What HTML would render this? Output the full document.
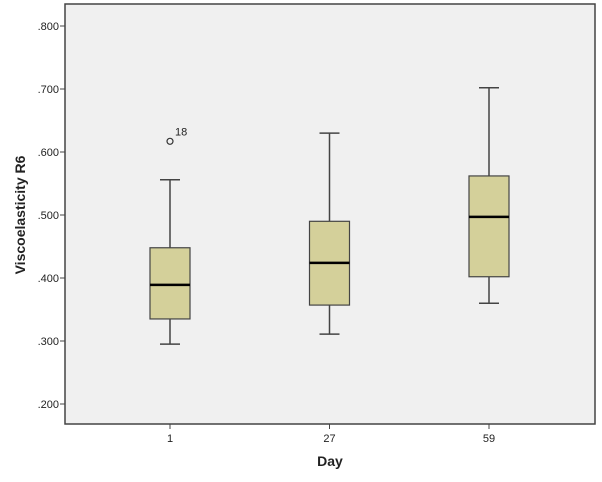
<!DOCTYPE html>
<html><head><meta charset="utf-8"><style>body{margin:0;background:#fff}svg{display:block;font-family:"Liberation Sans",Arial,sans-serif}</style></head>
<body>
<svg id="chart" width="602" height="482"></svg>
<script>
const categories=["1","27","59"];
const mins=[0.295,0.311,0.360];
const q1s=[0.335,0.357,0.402];
const medians=[0.389,0.424,0.497];
const q3s=[0.448,0.490,0.562];
const maxs=[0.556,0.630,0.702];
const outlierValues=[[0.617],[],[]];
const outlierLabels=[["18"],[],[]];
const yTicks=[0.2,0.3,0.4,0.5,0.6,0.7,0.8];
const yTickLabels=[".200",".300",".400",".500",".600",".700",".800"];

const NS="http://www.w3.org/2000/svg";
const svg=document.getElementById('chart');
const L=65,R=595,T=4,B=424;
const y=v=>26+(0.8-v)*630;
const x=i=>170+i*159.5;
function mk(tag,attrs,parent){const e=document.createElementNS(NS,tag);for(const k in attrs)e.setAttribute(k,attrs[k]);(parent||svg).appendChild(e);return e;}
const bg=mk('rect',{x:L,y:T,width:R-L,height:B-T,fill:'#f0f0f0',stroke:'#444','stroke-width':1.5});


yTicks.forEach((v,i)=>{
  const t=mk('line',{x1:L-5,x2:L,y1:y(v),y2:y(v),stroke:'#444'});
  
  
  const tx=mk('text',{x:L-6,y:y(v)+4,'text-anchor':'end','font-size':11,fill:'#222'});
  tx.textContent=yTickLabels[i];
  
  
});
categories.forEach((c,i)=>{
  const cx=x(i),g=mk('g',{});
  
  
  mk('line',{x1:cx,x2:cx,y1:y(maxs[i]),y2:y(q3s[i]),stroke:'#444','stroke-width':1.5},g);
  mk('line',{x1:cx,x2:cx,y1:y(q1s[i]),y2:y(mins[i]),stroke:'#444','stroke-width':1.5},g);
  mk('line',{x1:cx-10,x2:cx+10,y1:y(maxs[i]),y2:y(maxs[i]),stroke:'#444','stroke-width':1.5},g);
  mk('line',{x1:cx-10,x2:cx+10,y1:y(mins[i]),y2:y(mins[i]),stroke:'#444','stroke-width':1.5},g);
  mk('rect',{x:cx-20,y:y(q3s[i]),width:40,height:y(q1s[i])-y(q3s[i]),fill:'#d4d09a',stroke:'#444','stroke-width':1.2},g);
  mk('line',{x1:cx-20,x2:cx+20,y1:y(medians[i]),y2:y(medians[i]),stroke:'#000','stroke-width':2.5},g);
  outlierValues[i].forEach((v,j)=>{
    const o=mk('circle',{cx:cx,cy:y(v),r:3,fill:'none',stroke:'#333','stroke-width':1.2});
    
    
    const ol=mk('text',{x:cx+5,y:y(v)-6,'font-size':11,fill:'#222'});
    ol.textContent=outlierLabels[i][j];
    
    
  });
  const t=mk('line',{x1:cx,x2:cx,y1:B,y2:B+5,stroke:'#444'});
  
  
  const tx=mk('text',{x:cx,y:B+18,'text-anchor':'middle','font-size':11,fill:'#222'});
  tx.textContent=c;
  
  
});
const xt=mk('text',{x:330,y:466,'text-anchor':'middle','font-size':14,'font-weight':'bold',fill:'#222'});
xt.textContent='Day';


const yt=mk('text',{x:0,y:0,transform:'translate(25,215) rotate(-90)','text-anchor':'middle','font-size':14,'font-weight':'bold',fill:'#222'});
yt.textContent='Viscoelasticity R6';


</script>
</body></html>
